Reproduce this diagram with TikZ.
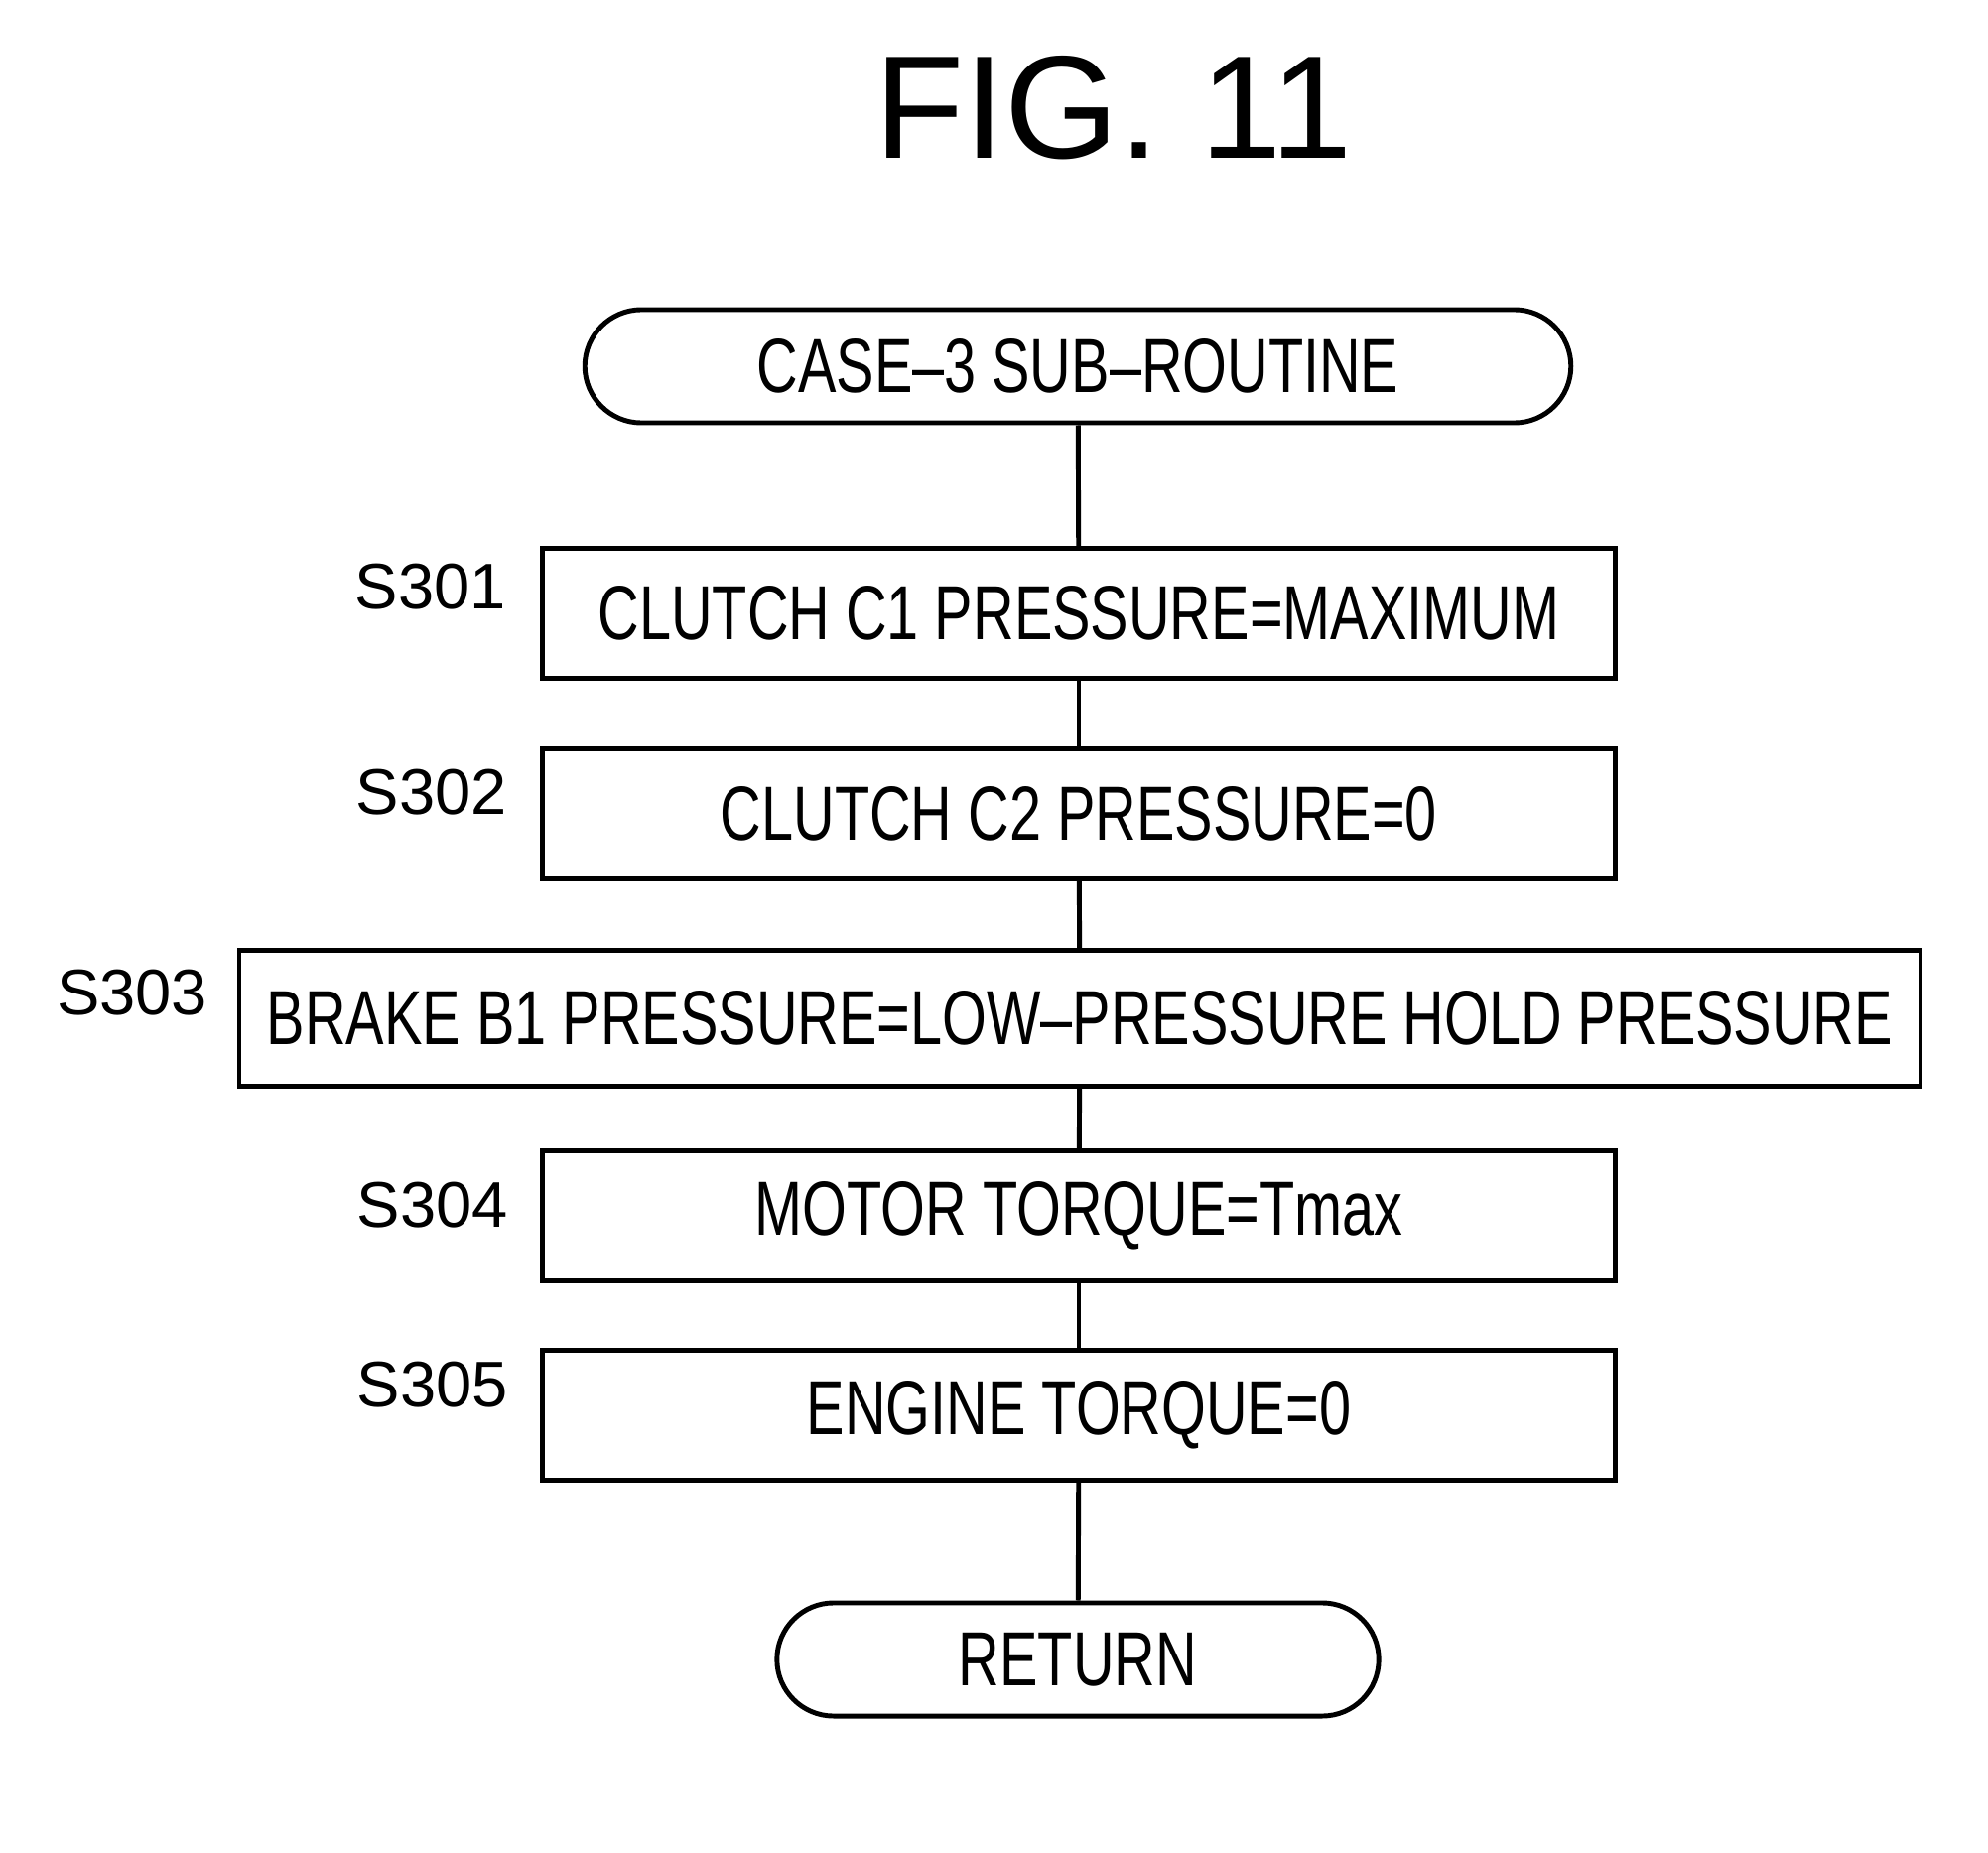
\documentclass[tikz,border=0pt]{standalone}
\usepackage{fontspec}
\usepackage{tikz}
\usetikzlibrary{positioning}
\usetikzlibrary{shapes.misc}
\newfontfamily\boxfont[FakeStretch=0.745]{Liberation Sans}
\newfontfamily\labelfont{Liberation Sans}

\begin{document}
\begin{tikzpicture}[x=0.01cm, y=-0.01cm, line width=1.4pt,
		stepbox/.style={draw, rectangle, minimum width=10.8cm, minimum height=1.31cm,
			inner sep=0pt, font=\boxfont\fontsize{22}{26}\selectfont},
		termbox/.style={draw, rounded rectangle, minimum height=1.14cm,
			inner sep=0pt, font=\boxfont\fontsize{22}{26}\selectfont},
		steplabel/.style={font=\labelfont\fontsize{18.5}{22}\selectfont, inner sep=0pt}
		]
		
		\useasboundingbox (0,0) rectangle (2003,1867);
		
		\node[font=\labelfont\fontsize{42}{48}\selectfont] (fig) at (1122,109) {FIG.\ 11};
		
		%steps
		\node[termbox, minimum width=9.93cm] (start) at (1086,369) {CASE–3 SUB–ROUTINE};
		\node[stepbox] (s301) at (1087,618) {CLUTCH C1 PRESSURE=MAXIMUM};
		\node[stepbox] (s302) at (1087,820) {CLUTCH C2 PRESSURE=0};
		\node[stepbox, minimum width=16.93cm, minimum height=1.37cm] (s303) at (1088,1026) {BRAKE B1 PRESSURE=LOW–PRESSURE HOLD PRESSURE};
		\node[stepbox] (s304) at (1087,1225) {MOTOR TORQUE=Tmax};
		\node[stepbox] (s305) at (1087,1426) {ENGINE TORQUE=0};
		\node[termbox, minimum width=6.06cm] (ret) at (1086,1672) {RETURN};
		
		%labels
		\node[steplabel, left=0.32cm of s301.west, yshift=0.27cm] (l301) {S301};
		\node[steplabel, left=0.31cm of s302.west, yshift=0.22cm] (l302) {S302};
		\node[steplabel, left=0.27cm of s303.west, yshift=0.26cm] (l303) {S303};
		\node[steplabel, left=0.30cm of s304.west, yshift=0.11cm] (l304) {S304};
		\node[steplabel, left=0.30cm of s305.west, yshift=0.31cm] (l305) {S305};
		
		%flow
		\draw (start) -- (s301);
		\draw (s301) -- (s302);
		\draw (s302) -- (s303);
		\draw (s303) -- (s304);
		\draw (s304) -- (s305);
		\draw (s305) -- (ret);
	\end{tikzpicture}
\end{document}
